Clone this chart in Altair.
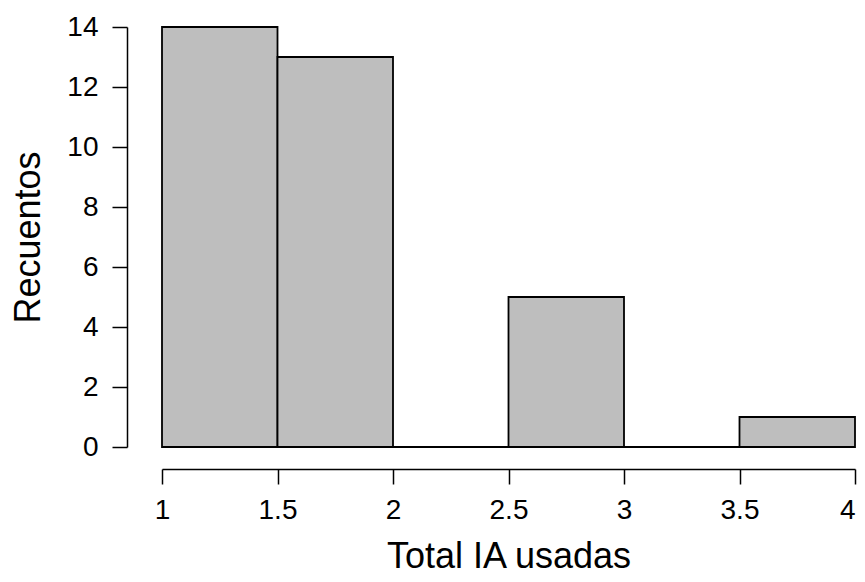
import altair as alt
import pandas as pd

bin_start = [1.0, 1.5, 2.0, 2.5, 3.0, 3.5]
bin_end = [1.5, 2.0, 2.5, 3.0, 3.5, 4.0]
counts = [14, 13, 0, 5, 0, 1]
x_ticks = [1, 1.5, 2, 2.5, 3, 3.5, 4]
y_ticks = [0, 2, 4, 6, 8, 10, 12, 14]

df = pd.DataFrame({"start": bin_start, "end": bin_end, "count": counts})

FONT = "Liberation Sans"

chart = alt.Chart(df).mark_rect(
    fill="#BEBEBE", stroke="black", strokeWidth=1.8
).encode(
    x=alt.X("start:Q",
            scale=alt.Scale(domain=[1, 4], nice=False, zero=False),
            axis=alt.Axis(values=x_ticks, title="Total IA usadas", grid=False,
                          offset=22, tickSize=15, tickWidth=1.5, tickColor="black",
                          domainColor="black", domainWidth=1.5,
                          labelFontSize=28, labelFont=FONT, labelColor="black",
                          labelPadding=12, labelFlush=False,
                          labelAlign={"condition": {"test": "datum.value == 4", "value": "right"},
                                      "value": "center"},
                          labelExpr="format(datum.value, '')",
                          titleFontSize=36, titleFont=FONT, titleColor="black",
                          titleFontWeight="normal", titlePadding=15)),
    x2="end:Q",
    y=alt.Y("count:Q",
            scale=alt.Scale(domain=[0, 14], nice=False),
            axis=alt.Axis(values=y_ticks, title="Recuentos", grid=False,
                          offset=35, tickSize=15, tickWidth=1.5, tickColor="black",
                          domainColor="black", domainWidth=1.5,
                          labelFontSize=28, labelFont=FONT, labelColor="black",
                          labelPadding=14, labelFlush=False,
                          titleFontSize=36, titleFont=FONT, titleColor="black",
                          titleFontWeight="normal", titlePadding=19)),
    y2=alt.Y2(datum=0),
).properties(
    width=693, height=420,
    autosize=alt.AutoSizeParams(type="none"),
    padding={"left": 154, "top": 19, "right": 2, "bottom": 127},
).configure_view(stroke=None)

chart.save("out.html", embed_options={"renderer": "svg", "actions": False})
